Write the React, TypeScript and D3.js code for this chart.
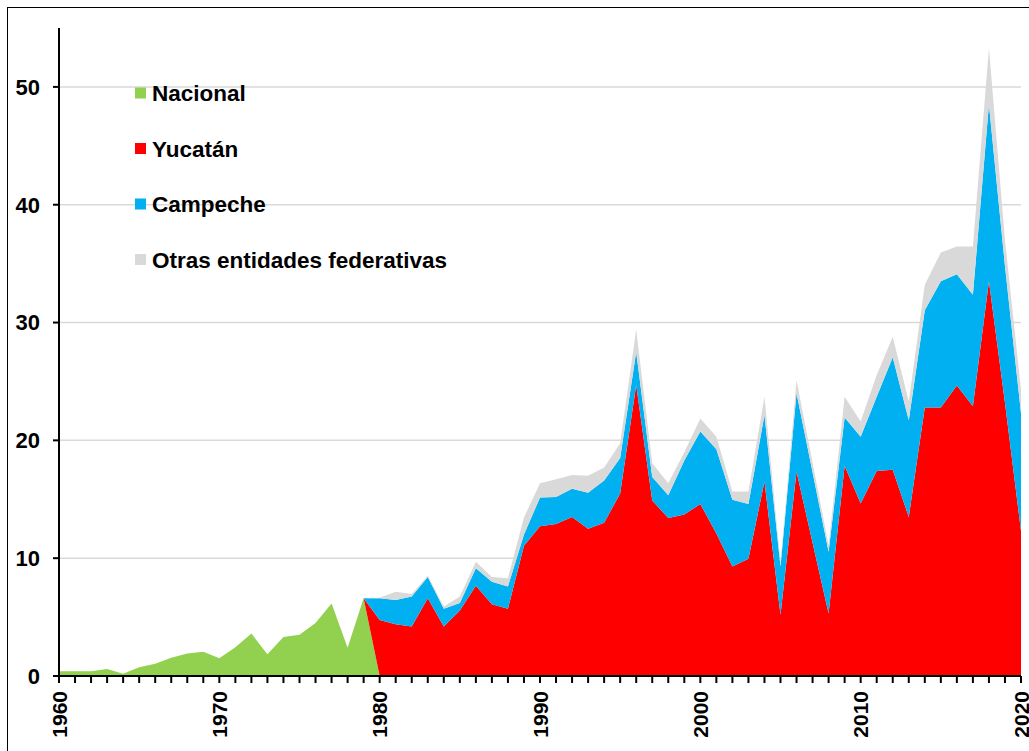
import React from "react";
import * as d3 from "d3";

const WIDTH = 1029;
const HEIGHT = 751;
const MARGIN = { top: 28, right: 8, bottom: 75, left: 59 };

const years = d3.range(1960, 2021);

// 1960-1979 nacional, después 0
const nacional = [
  0.4, 0.4, 0.4, 0.6, 0.2, 0.75, 1.05, 1.55, 1.9, 2.05,
  1.5, 2.45, 3.6, 1.85, 3.3, 3.5, 4.5, 6.15, 2.4, 6.6,
];
// 1980-2020
const yucatan = [
  4.75, 4.4, 4.2, 6.6, 4.2, 5.55, 7.65, 6.1, 5.7, 11.05,
  12.7, 12.9, 13.5, 12.5, 13.0, 15.5, 24.7, 14.9, 13.4, 13.7,
  14.6, 12.1, 9.3, 9.95, 16.5, 5.2, 17.35, 11.3, 5.3, 17.85,
  14.65, 17.4, 17.5, 13.5, 22.8, 22.8, 24.65, 22.9, 33.5, 23.2,
  12.3,
];
const campeche = [
  1.85, 2.05, 2.55, 1.8, 1.5, 0.65, 1.5, 1.9, 1.9, 0.95,
  2.45, 2.3, 2.4, 3.05, 3.6, 3.0, 2.8, 2.0, 1.95, 4.6,
  6.15, 7.15, 5.65, 4.65, 5.65, 4.1, 6.65, 6.0, 5.25, 4.1,
  5.65, 6.3, 9.55, 8.2, 8.25, 10.7, 9.45, 9.45, 15.0, 11.6,
  10.0,
];
const otras = [
  0.05, 0.7, 0.2, 0.1, 0.2, 0.55, 0.55, 0.4, 0.7, 1.45,
  1.2, 1.5, 1.15, 1.45, 1.1, 1.25, 1.9, 1.15, 1.0, 0.7,
  1.1, 1.05, 0.7, 1.05, 1.55, 0.3, 1.1, 0.8, 0.55, 1.75,
  1.3, 1.85, 1.75, 1.6, 2.15, 2.45, 2.35, 4.1, 4.8, 2.2,
  2.0,
];

const seriesKeys = ["Nacional", "Yucatán", "Campeche", "Otras entidades federativas"];
const colors = ["#92d050", "#ff0000", "#00b0f0", "#d9d9d9"];
const yTicks = [0, 10, 20, 30, 40, 50];
const xLabels = [1960, 1970, 1980, 1990, 2000, 2010, 2020];

const FONT = "'Liberation Sans', Arial, sans-serif";

type Row = { year: number; [k: string]: number };

const App = () => {
  const boundsWidth = 1021 - MARGIN.left;
  const boundsHeight = 676 - MARGIN.top;

  const data: Row[] = years.map((year, i) => {
    const j = i - 20;
    return {
      year,
      Nacional: i < 20 ? nacional[i] : 0,
      "Yucatán": j >= 0 ? yucatan[j] : 0,
      Campeche: j >= 0 ? campeche[j] : 0,
      "Otras entidades federativas": j >= 0 ? otras[j] : 0,
    };
  });

  const xScale = d3.scaleLinear().domain([1960, 2020]).range([0, boundsWidth]);
  const yScale = d3.scaleLinear().domain([0, 55]).range([boundsHeight, 0]);

  const stackSeries = d3.stack<Row>().keys(seriesKeys).order(d3.stackOrderNone);
  const series = stackSeries(data);

  const areaGen = d3
    .area<any>()
    .x((d) => xScale(d.data.year))
    .y0((d) => yScale(d[0]))
    .y1((d) => yScale(d[1]));

  const colorScale = d3.scaleOrdinal<string>().domain(seriesKeys).range(colors);

  return (
    <svg
      width={WIDTH}
      height={HEIGHT}
      style={{ position: "absolute", left: 0, top: 0, background: "#fff" }}
    >
      <rect x={7.5} y={7.5} width={WIDTH + 20} height={HEIGHT + 20} fill="#fff" stroke="#000" strokeWidth={1} />
      <g transform={`translate(${MARGIN.left},${MARGIN.top})`}>
        {yTicks
          .filter((t) => t > 0)
          .map((t) => (
            <line key={t} x1={0} x2={boundsWidth} y1={yScale(t)} y2={yScale(t)} stroke="#d9d9d9" strokeWidth={1.5} />
          ))}
        {series.map((s) => (
          <path key={s.key} d={areaGen(s) || ""} fill={colorScale(s.key)} />
        ))}
        {/* eje Y */}
        <line x1={0} x2={0} y1={0} y2={boundsHeight} stroke="#000" strokeWidth={2} />
        {yTicks.map((t) => (
          <g key={t} transform={`translate(0,${yScale(t)})`}>
            <line x1={-6} x2={0} stroke="#000" strokeWidth={2} />
            <text
              x={-19}
              dy="0.36em"
              textAnchor="end"
              fontFamily={FONT}
              fontWeight="bold"
              fontSize={22}
            >
              {t}
            </text>
          </g>
        ))}
        {/* eje X */}
        <line x1={0} x2={boundsWidth} y1={boundsHeight} y2={boundsHeight} stroke="#000" strokeWidth={2} />
        {years.map((yr) => (
          <line
            key={yr}
            x1={xScale(yr)}
            x2={xScale(yr)}
            y1={boundsHeight}
            y2={boundsHeight + 7}
            stroke="#000"
            strokeWidth={2}
          />
        ))}
        {xLabels.map((yr) => (
          <text
            key={yr}
            transform={`translate(${xScale(yr)},${boundsHeight + 15}) rotate(-90)`}
            dy="0.36em"
            textAnchor="end"
            fontFamily={FONT}
            fontWeight="bold"
            fontSize={21}
          >
            {yr}
          </text>
        ))}
      </g>
      {/* leyenda */}
      <g transform="translate(135,93)">
        {seriesKeys.map((k, i) => (
          <g key={k} transform={`translate(0,${i * 55.5})`}>
            <rect x={0} y={-5.5} width={11} height={11} fill={colorScale(k)} />
            <text x={17} dy="0.36em" fontFamily={FONT} fontWeight="bold" fontSize={22.5}>
              {k}
            </text>
          </g>
        ))}
      </g>
    </svg>
  );
};

export default App;
